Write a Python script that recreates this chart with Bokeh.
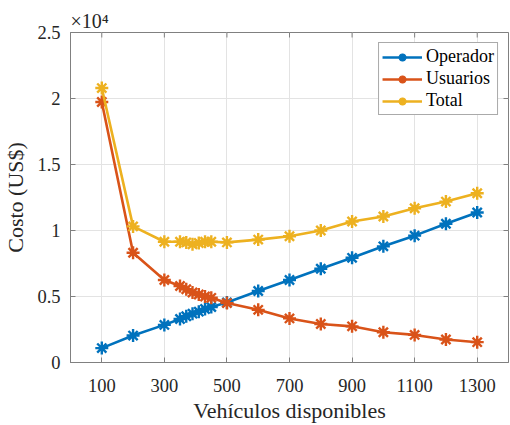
from bokeh.plotting import figure
from bokeh.models import FixedTicker, Legend, LegendItem, Range1d
from bokeh.embed import file_html
from bokeh.resources import INLINE

# ---- data ----
vehiculos = [100, 200, 300, 350, 370, 390, 410, 430, 450, 500, 600, 700, 800, 900, 1000, 1100, 1200, 1300]
operador = [1090, 2040, 2850, 3300, 3500, 3700, 3850, 4050, 4200, 4550, 5420, 6250, 7100, 7930, 8800, 9610, 10510, 11360]
usuarios = [19740, 8310, 6250, 5800, 5550, 5300, 5150, 5000, 4900, 4500, 3990, 3340, 2920, 2740, 2290, 2090, 1740, 1540]
total = [20790, 10310, 9150, 9150, 9100, 8950, 9050, 9150, 9150, 9100, 9310, 9560, 10000, 10680, 11060, 11690, 12190, 12820]

x_ticks = [100, 300, 500, 700, 900, 1100, 1300]
y_ticks = [0, 5000, 10000, 15000, 20000, 25000]
y_tick_labels = ["0", "0.5", "1", "1.5", "2", "2.5"]
series_names = ["Operador", "Usuarios", "Total"]
colors = ["#0072BD", "#D95319", "#EDB120"]
x_min, x_max = 0, 1400
y_min, y_max = 0, 25000

FONT = "Liberation Serif"
AX_COL = "#808080"
TXT_COL = "#262626"

p = figure(width=510, height=425, output_backend="svg", toolbar_location=None,
           x_range=Range1d(x_min, x_max), y_range=Range1d(y_min, y_max),
           min_border_left=70, min_border_right=2, min_border_top=32, min_border_bottom=62)

p.outline_line_color = AX_COL
p.background_fill_color = "white"
p.border_fill_color = "white"

# exponent as title above the frame
p.title.text = "×10⁴"
p.title.text_font = FONT
p.title.text_font_size = "20px"
p.title.text_font_style = "normal"
p.title.text_color = TXT_COL
p.title.align = "left"
p.title.offset = 0
p.title.standoff = 2

# grid
p.xgrid.ticker = FixedTicker(ticks=x_ticks)
p.ygrid.ticker = FixedTicker(ticks=y_ticks)
for g in (p.xgrid, p.ygrid):
    g.grid_line_color = "#e3e3e3"
    g.grid_line_width = 1

# axes
xa = p.xaxis[0]
xa.ticker = FixedTicker(ticks=x_ticks)
xa.axis_label = "Vehículos disponibles"
ya = p.yaxis[0]
ya.ticker = FixedTicker(ticks=y_ticks)
ya.major_label_overrides = {t: l for t, l in zip(y_ticks, y_tick_labels)}
ya.axis_label = "Costo (US$)"
for a in (xa, ya):
    a.axis_line_color = AX_COL
    a.major_tick_line_color = AX_COL
    a.major_tick_in = 5
    a.major_tick_out = 0
    a.minor_tick_line_color = None
    a.major_label_text_font = FONT
    a.major_label_text_font_size = "18.5px"
    a.major_label_text_color = TXT_COL
    a.axis_label_text_font = FONT
    a.axis_label_text_font_size = "22px"
    a.axis_label_text_font_style = "normal"
    a.axis_label_text_color = TXT_COL
xa.major_label_standoff = 16
xa.axis_label_standoff = 3
ya.major_label_standoff = 10
ya.axis_label_standoff = 6

# ticks on top and right edges of the box (half of each dash is clipped by the frame)
p.scatter(x_ticks, [y_max] * len(x_ticks), marker="dash", angle=1.5708, size=10,
          line_color=AX_COL, line_width=1)
p.scatter([x_max] * len(y_ticks), y_ticks, marker="dash", size=10,
          line_color=AX_COL, line_width=1)

# series
items = []
for name, ys, c in zip(series_names, [operador, usuarios, total], colors):
    r1 = p.line(vehiculos, ys, line_color=c, line_width=2.6)
    r2 = p.scatter(vehiculos, ys, marker="asterisk", size=13, line_color=c, line_width=2.4)
    items.append(LegendItem(label=name, renderers=[r1, r2]))

legend = Legend(items=items, location="top_right")
legend.label_text_font = FONT
legend.label_text_font_size = "18px"
legend.label_text_color = "black"
legend.glyph_width = 40
legend.glyph_height = 20
legend.label_height = 20
legend.spacing = 1
legend.padding = 3
legend.margin = 10
legend.label_standoff = 4
legend.border_line_color = "#555555"
legend.border_line_width = 1
legend.background_fill_alpha = 1
p.add_layout(legend)

open("out.html", "w").write(file_html(p, INLINE))
